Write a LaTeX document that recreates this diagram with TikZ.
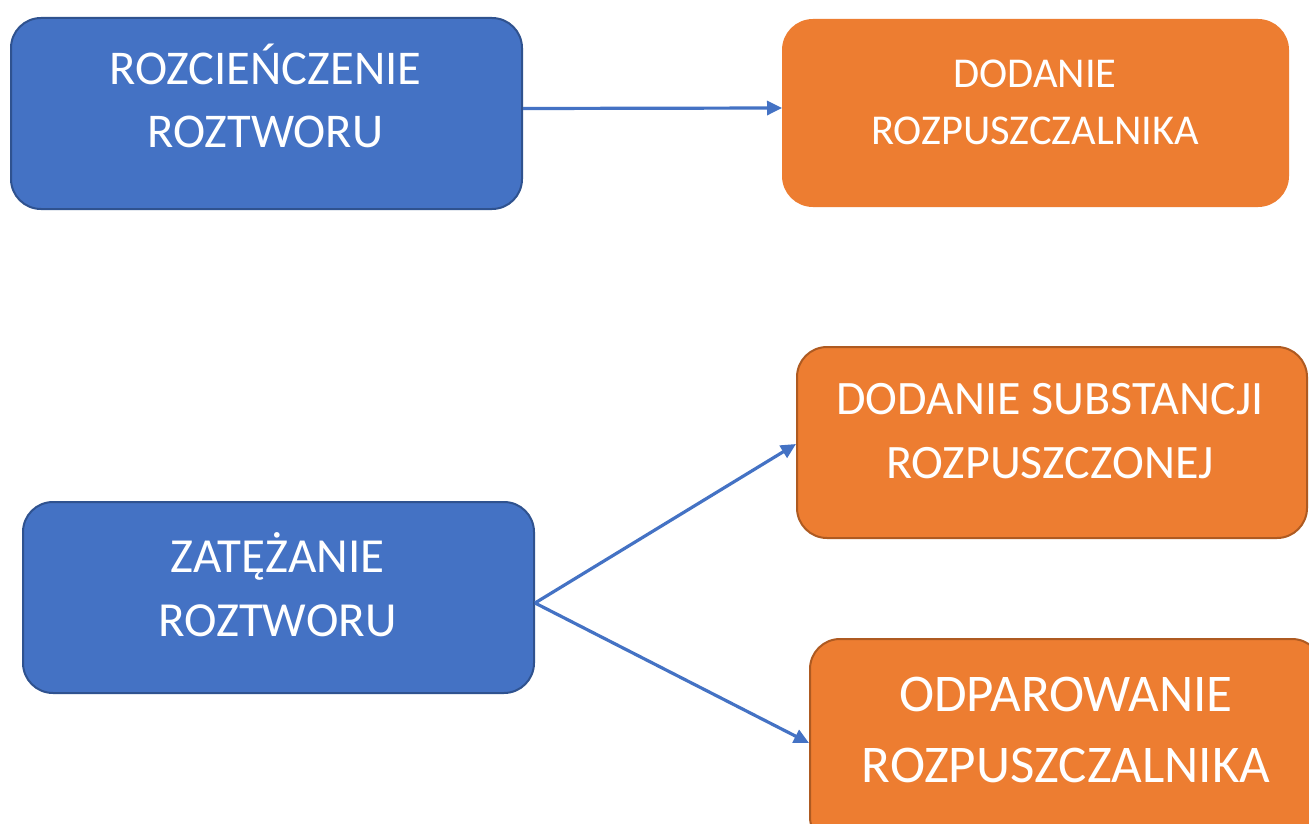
\documentclass[tikz,border=0pt]{standalone}
\usepackage{fontspec}
\setmainfont{Carlito}
\usetikzlibrary{arrows.meta}
\definecolor{bluefill}{HTML}{4472C4}
\definecolor{blueedge}{HTML}{2F528F}
\definecolor{orangefill}{HTML}{ED7D31}
\definecolor{orangeedge}{HTML}{AE5A21}
\begin{document}
\begin{tikzpicture}[x=1pt,y=-1pt,
  box/.style={rectangle, rounded corners=30pt, line width=2pt, anchor=north west, inner sep=0pt},
  bluebox/.style={box, fill=bluefill, draw=blueedge},
  orangebox/.style={box, fill=orangefill, draw=orangeedge},
  orangeplain/.style={box, fill=orangefill, draw=orangefill},
  txt/.style={text=white, align=center, inner sep=0pt, anchor=base},
  conn/.style={draw=bluefill, line width=3.2pt, -{Triangle[length=15pt,width=14pt]}}]
\useasboundingbox (0,0) rectangle (1309,824);
\fill[white] (0,0) rectangle (1309,824);
% boxes
\node[bluebox, minimum width=511pt, minimum height=191pt] (b1) at (10,17) {};
\node[orangeplain, minimum width=505pt, minimum height=186pt] (b2) at (782,19) {};
\node[orangebox, minimum width=510pt, minimum height=191pt] (b3) at (796,346) {};
\node[bluebox, minimum width=511pt, minimum height=191pt] (b4) at (22,501) {};
\node[orangebox, minimum width=512pt, minimum height=208pt] (b5) at (809,638) {};
% texts (anchor = baseline of the last line)
\node[txt, font=\fontsize{48.5}{63}\selectfont] (t1) at (265.5,148) {ROZCIEŃCZENIE\\ROZTWORU};
\node[txt, font=\fontsize{42.5}{57}\selectfont] (t2) at (1035,145) {DODANIE\\ROZPUSZCZALNIKA};
\node[txt, font=\fontsize{48}{64}\selectfont] (t3) at (1050,478) {DODANIE SUBSTANCJI\\ROZPUSZCZONEJ};
\node[txt, font=\fontsize{49}{64}\selectfont] (t4) at (277.5,636) {ZATĘŻANIE\\ROZTWORU};
\node[txt, font=\fontsize{53}{71}\selectfont] (t5) at (1066,782) {ODPAROWANIE\\ROZPUSZCZALNIKA};
% connectors
\draw[conn] ([yshift=5pt]b1.east) -- ([yshift=5pt]b2.west);
\draw[conn] ([yshift=-5.5pt]b4.east) -- ([yshift=-1.5pt]b3.west);
\draw[conn] ([yshift=-5.5pt]b4.east) -- (b5.west);
\end{tikzpicture}
\end{document}
